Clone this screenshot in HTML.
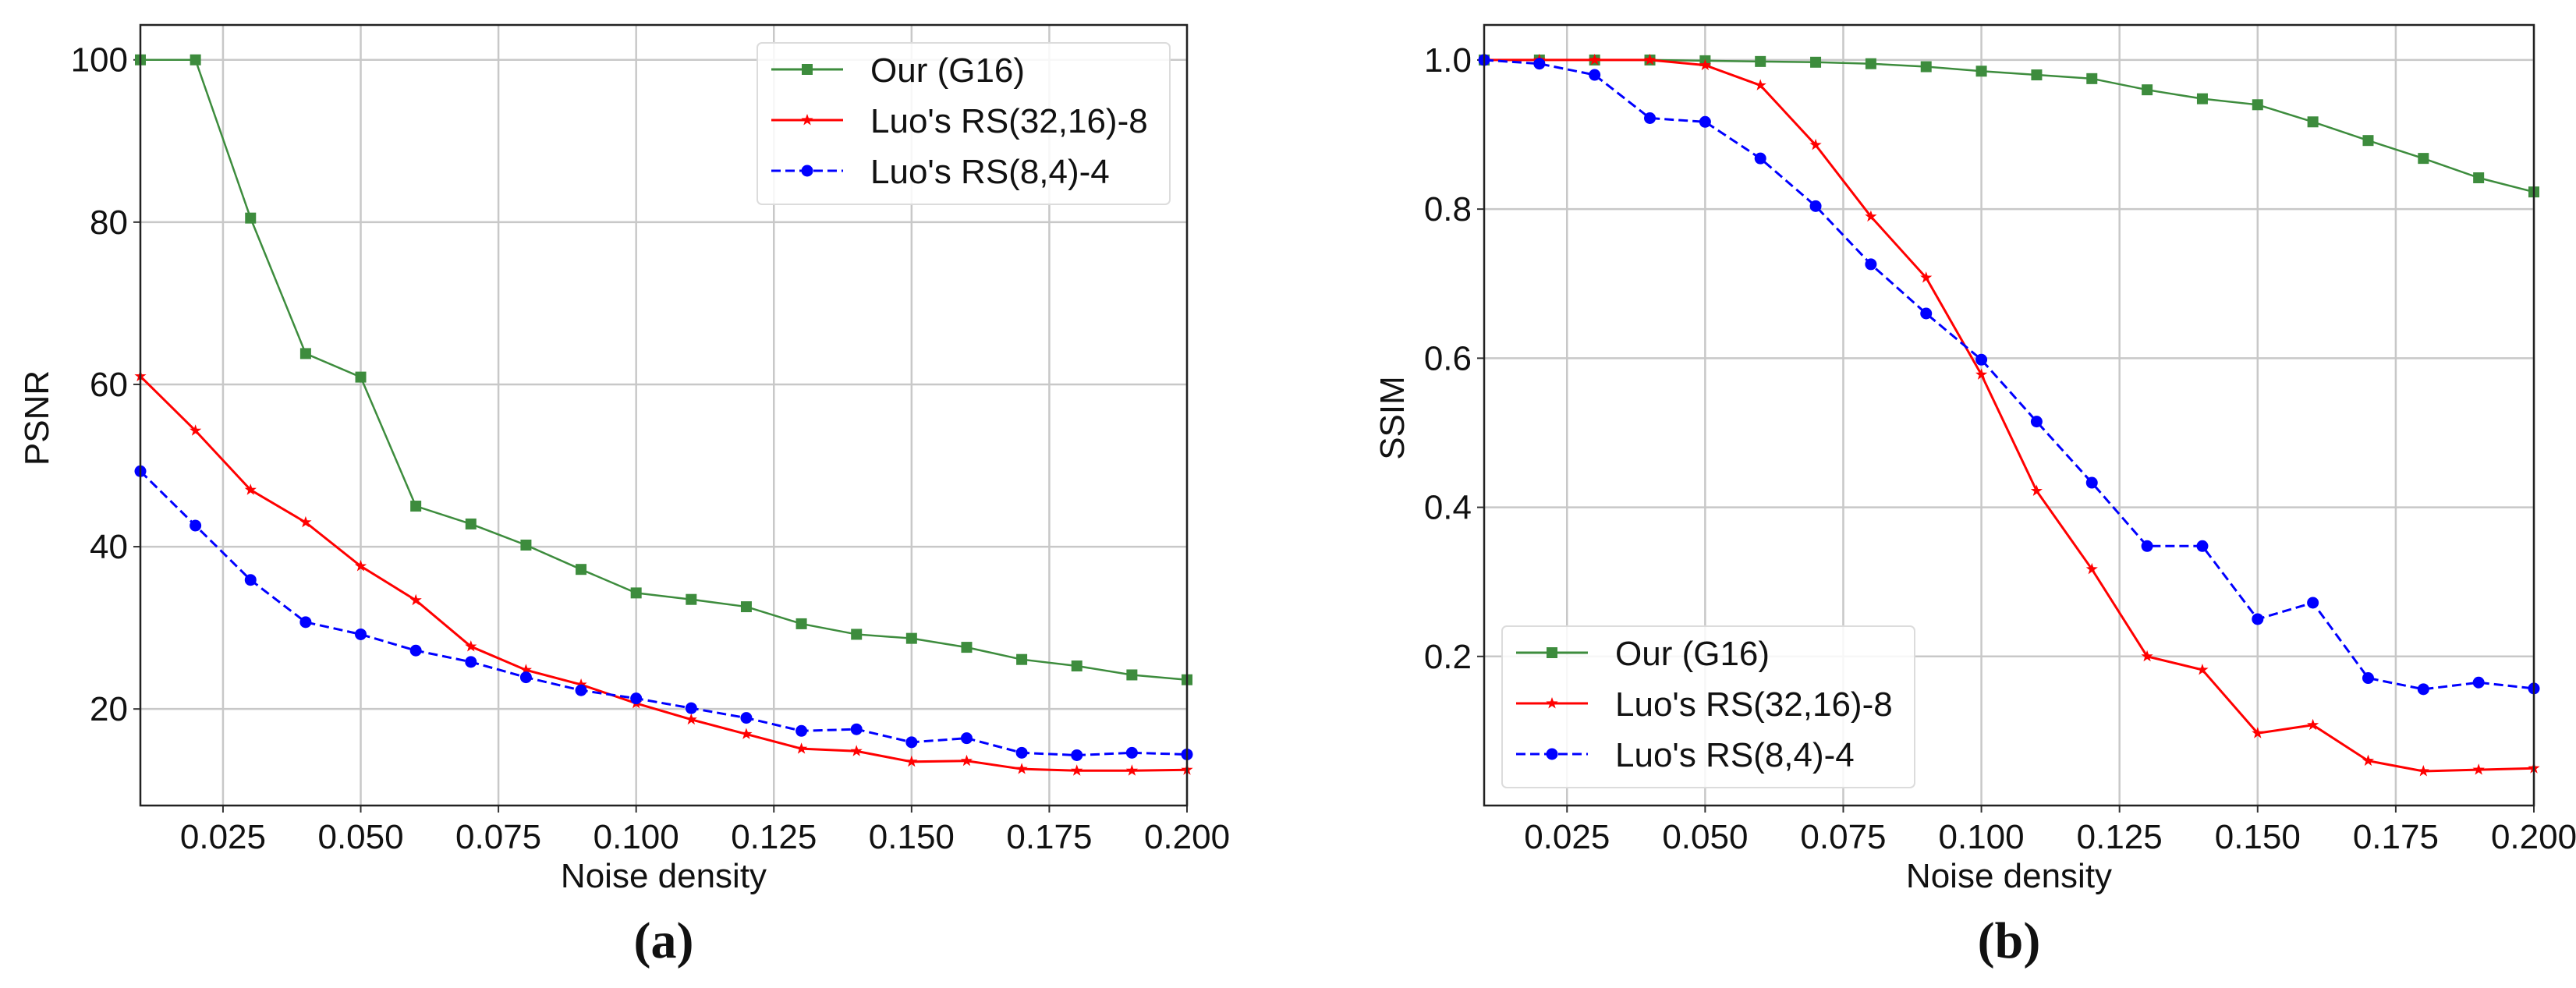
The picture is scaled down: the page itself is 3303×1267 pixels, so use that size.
<!DOCTYPE html>
<html><head><meta charset="utf-8"><style>
html,body{margin:0;padding:0;background:#fff;}
svg{display:block;font-family:"Liberation Sans",sans-serif;}
</style></head><body>
<svg id="chart" width="3303" height="1267" viewBox="0 0 3303 1267" xmlns="http://www.w3.org/2000/svg"></svg>
<script>
const xs = [0.01,0.02,0.03,0.04,0.05,0.06,0.07,0.08,0.09,0.10,0.11,0.12,0.13,0.14,0.15,0.16,0.17,0.18,0.19,0.20];
const xTicks = [0.025,0.05,0.075,0.1,0.125,0.15,0.175,0.2];
const xTickLabels = ["0.025","0.050","0.075","0.100","0.125","0.150","0.175","0.200"];
const psnrOur = [100,100,80.5,63.8,60.9,45,42.8,40.2,37.2,34.3,33.5,32.6,30.5,29.2,28.7,27.6,26.1,25.3,24.2,23.6];
const psnrRS32 = [61,54.3,47,43,37.6,33.4,27.7,24.8,23,20.7,18.7,16.9,15.1,14.8,13.5,13.6,12.6,12.4,12.4,12.5];
const psnrRS8 = [49.3,42.6,35.9,30.7,29.2,27.2,25.8,23.9,22.3,21.3,20.1,18.9,17.3,17.5,15.9,16.4,14.6,14.3,14.6,14.4];
const psnrTicks = [20,40,60,80,100];
const ssimOur = [1,1,1,1,0.999,0.998,0.997,0.995,0.991,0.985,0.98,0.975,0.96,0.948,0.94,0.917,0.892,0.868,0.842,0.823];
const ssimRS32 = [1,1,1,1,0.993,0.966,0.886,0.79,0.708,0.578,0.422,0.317,0.2,0.182,0.097,0.108,0.06,0.046,0.048,0.05];
const ssimRS8 = [1,0.995,0.98,0.922,0.917,0.868,0.804,0.726,0.66,0.598,0.515,0.433,0.348,0.348,0.25,0.272,0.171,0.156,0.165,0.157];
const ssimTicks = [0.2,0.4,0.6,0.8,1.0];
const ssimTickLabels = ["0.2","0.4","0.6","0.8","1.0"];
const legendLabels = ["Our (G16)","Luo's RS(32,16)-8","Luo's RS(8,4)-4"];

const NS="http://www.w3.org/2000/svg";
const svg=document.getElementById('chart');
function mk(tag,attrs,parent,text){const e=document.createElementNS(NS,tag);for(const k in attrs)e.setAttribute(k,attrs[k]);if(text!==undefined)e.textContent=text;(parent||svg).appendChild(e);return e;}

function panel(cfg){
  const g=mk('g',{});
  
  
  const L=cfg.left,R=cfg.right,T=32,B=1033;
  const X=v=>L+(v-0.01)/(0.2-0.01)*(R-L);
  const Y=v=>B-(v-cfg.ymin)/(cfg.ymax-cfg.ymin)*(B-T);
  xTicks.forEach((t,i)=>{
    const gl=mk('line',{x1:X(t),x2:X(t),y1:T,y2:B,stroke:'#c8c8c8','stroke-width':2.5},g);
    
    
    mk('line',{x1:X(t),x2:X(t),y1:B,y2:B+9,stroke:'#333','stroke-width':2},g);
    const tl=mk('text',{x:X(t),y:1088,'font-size':44,'text-anchor':'middle',fill:'#111'},g,xTickLabels[i]);
    
    
  });
  cfg.ticks.forEach((t,i)=>{
    const gl=mk('line',{x1:L,x2:R,y1:Y(t),y2:Y(t),stroke:'#c8c8c8','stroke-width':2.5},g);
    
    
    mk('line',{x1:L-9,x2:L,y1:Y(t),y2:Y(t),stroke:'#333','stroke-width':2},g);
    const tl=mk('text',{x:L-16,y:Y(t)+15,'font-size':44,'text-anchor':'end',fill:'#111'},g,cfg.tickLabels[i]);
    
    
  });
  const colors=['#3d8c3d','#ff0000','#0000ff'];
  cfg.series.forEach((s,si)=>{
    const sg=mk('g',{},g);
    
    
    const pts=s.map((v,i)=>X(xs[i])+','+Y(v)).join(' ');
    const pl={points:pts,fill:'none',stroke:colors[si],'stroke-width':si==0?2.5:3};
    if(si==2)pl['stroke-dasharray']='12,6';
    mk('polyline',pl,sg);
    s.forEach((v,i)=>{marker(sg,si,X(xs[i]),Y(v),colors[si]);});
  });
  const fr=mk('rect',{x:L,y:T,width:R-L,height:B-T,fill:'none',stroke:'#222','stroke-width':2.5},g);
  
  
  const xt=mk('text',{x:(L+R)/2,y:1138,'font-size':44,'text-anchor':'middle',fill:'#111'},g,'Noise density');
  
  
  const yt=mk('text',{x:cfg.ylx,y:536,'font-size':44,'text-anchor':'middle',fill:'#111',transform:`rotate(-90 ${cfg.ylx} 536)`},g,cfg.ylabel);
  
  
  const cap=mk('text',{x:(L+R)/2,y:1228,'font-size':66,'font-weight':'bold','text-anchor':'middle','font-family':'Liberation Serif, serif',fill:'#111'},g,cfg.caption);
  
  
  // legend
  const lg=mk('g',{},g);
  
  
  const lx=cfg.legX,ly=cfg.legY;
  mk('rect',{x:lx,y:ly,width:529,height:207,rx:6,fill:'#fff','fill-opacity':0.85,stroke:'#dcdcdc','stroke-width':2},lg);
  legendLabels.forEach((lab,i)=>{
    const ey=ly+34+i*65;
    const eg=mk('g',{},lg);
    
    
    const la={x1:lx+18,x2:lx+110,y1:ey,y2:ey,stroke:colors[i],'stroke-width':3};
    if(i==2)la['stroke-dasharray']='12,6';
    mk('line',la,eg);
    marker(eg,i,lx+64,ey,colors[i]);
    mk('text',{x:lx+145,y:ey+16,'font-size':44,fill:'#111'},eg,lab);
  });
}
function marker(p,si,x,y,c){
  if(si==0)mk('rect',{x:x-7,y:y-7,width:14,height:14,fill:c},p);
  else if(si==2)mk('circle',{cx:x,cy:y,r:7.5,fill:c},p);
  else{
    let d='';for(let k=0;k<10;k++){const r=k%2?3.2:8;const a=-Math.PI/2+k*Math.PI/5;d+=(k?'L':'M')+(x+r*Math.cos(a)).toFixed(1)+','+(y+r*Math.sin(a)).toFixed(1);}
    mk('path',{d:d+'Z',fill:c},p);
  }
}
panel({name:'psnr-chart',left:180,right:1522,ymin:8.1,ymax:104.3,ticks:psnrTicks,tickLabels:psnrTicks.map(String),series:[psnrOur,psnrRS32,psnrRS8],ylabel:'PSNR',ylx:62,caption:'(a)',legX:971,legY:55});
panel({name:'ssim-chart',left:1903,right:3249,ymin:0.0,ymax:1.047,ticks:ssimTicks,tickLabels:ssimTickLabels,series:[ssimOur,ssimRS32,ssimRS8],ylabel:'SSIM',ylx:1800,caption:'(b)',legX:1926,legY:803});
</script>
</body></html>
